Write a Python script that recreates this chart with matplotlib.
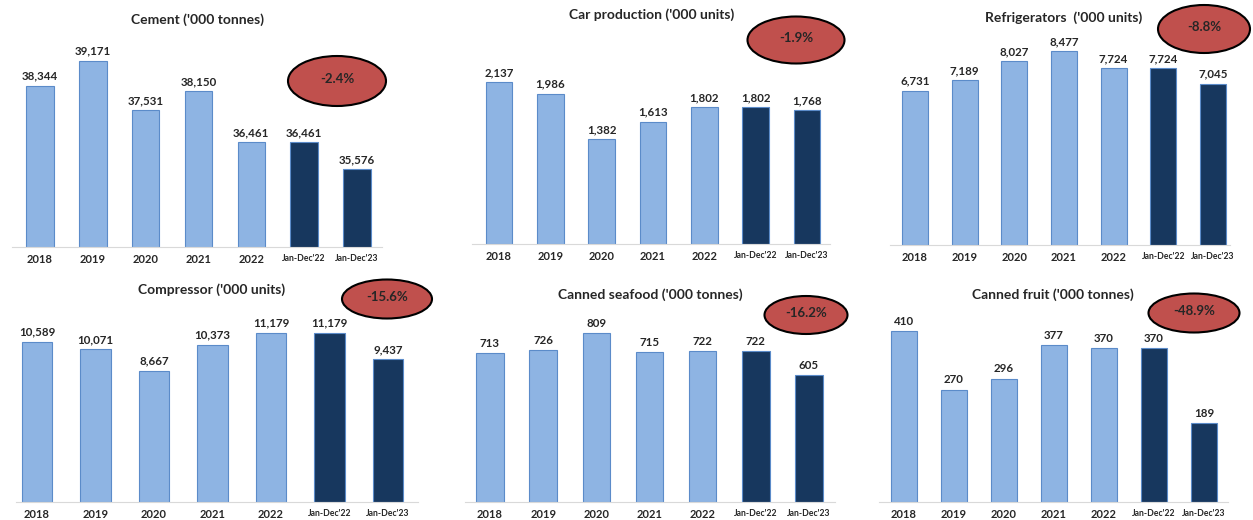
import matplotlib
matplotlib.use("Agg")
import matplotlib.pyplot as plt
from matplotlib.patches import Ellipse

plt.rcParams.update({
    "font.family": ["Lato", "DejaVu Sans"],
    "font.weight": "bold",
})

W, H = 1253, 520

categories = ["2018", "2019", "2020", "2021", "2022", "Jan-Dec'22", "Jan-Dec'23"]

titles = [
    "Cement ('000 tonnes)",
    "Car production ('000 units)",
    "Refrigerators  ('000 units)",
    "Compressor ('000 units)",
    "Canned seafood ('000 tonnes)",
    "Canned fruit ('000 tonnes)",
]

cement = [38344, 39171, 37531, 38150, 36461, 36461, 35576]
cars = [2137, 1986, 1382, 1613, 1802, 1802, 1768]
fridges = [6731, 7189, 8027, 8477, 7724, 7724, 7045]
compressor = [10589, 10071, 8667, 10373, 11179, 11179, 9437]
seafood = [713, 726, 809, 715, 722, 722, 605]
fruit = [410, 270, 296, 377, 370, 370, 189]

changes = ["-2.4%", "-1.9%", "-8.8%", "-15.6%", "-16.2%", "-48.9%"]

series = [cement, cars, fridges, compressor, seafood, fruit]

# layout in pixels: baseline left/right, first/last bar centre, baseline y,
# axes top y, y-axis min, value per pixel, title pos, ellipse (cx, cy, w, h)
layout = [
    dict(l=12, r=382, c0=40, c6=357, base=247, top=30, ymin=33000, vpp=33.1,
         tx=198, ty=20, ell=(337, 81, 98, 50)),
    dict(l=472, r=830, c0=499, c6=807, base=244, top=30, ymin=0, vpp=13.2,
         tx=652, ty=15, ell=(796, 40, 97, 47)),
    dict(l=890, r=1230, c0=915, c6=1213, base=245, top=30, ymin=0, vpp=43.7,
         tx=1064, ty=18, ell=(1204, 29, 92, 48)),
    dict(l=16, r=418, c0=37, c6=388, base=502, top=300, ymin=0, vpp=66.0,
         tx=212, ty=290, ell=(387, 299, 90, 39)),
    dict(l=465, r=835, c0=490, c6=809, base=502, top=300, ymin=0, vpp=4.78,
         tx=650, ty=295, ell=(806, 315, 83, 38)),
    dict(l=879, r=1228, c0=904, c6=1204, base=502, top=300, ymin=0, vpp=2.4,
         tx=1053, ty=295, ell=(1194, 313, 91, 39)),
]

light, dark = "#8EB4E3", "#17375E"
colors = [light] * 5 + [dark] * 2

fig = plt.figure(figsize=(W / 100, H / 100), dpi=100)

for values, title, change, g in zip(series, titles, changes, layout):
    sp = (g["c6"] - g["c0"]) / 6
    ax = fig.add_axes([g["l"] / W, 1 - g["base"] / H,
                       (g["r"] - g["l"]) / W, (g["base"] - g["top"]) / H])
    x = list(range(len(categories)))
    ax.bar(x, values, width=0.52, color=colors, edgecolor="#5B8BC9", linewidth=0.8)
    ax.set_xlim((g["l"] - g["c0"]) / sp, (g["r"] - g["c0"]) / sp)
    ax.set_ylim(g["ymin"], g["ymin"] + (g["base"] - g["top"]) * g["vpp"])
    for i, v in enumerate(values):
        ax.annotate(f"{v:,}", (i, v), xytext=(0, 3), textcoords="offset points",
                    ha="center", va="bottom", fontsize=8.3, fontweight="bold",
                    color="#262626")
    ax.set_xticks(x)
    ax.set_xticklabels(categories)
    for lab in ax.get_xticklabels():
        lab.set_fontsize(8 if lab.get_text()[0] == "2" else 6.2)
        lab.set_fontweight("bold")
        lab.set_color("#262626")
    ax.tick_params(axis="x", length=0, pad=5)
    ax.set_yticks([])
    for s in ["top", "right", "left"]:
        ax.spines[s].set_visible(False)
    ax.spines["bottom"].set_color("#D9D9D9")

    fig.text(g["tx"] / W, 1 - g["ty"] / H, title, ha="center", va="center",
             fontsize=10, fontweight="bold", color="#262626")
    cx, cy, ew, eh = g["ell"]
    fig.patches.append(Ellipse((cx / W, 1 - cy / H), ew / W, eh / H,
                               transform=fig.transFigure, facecolor="#C0504D",
                               edgecolor="black", linewidth=1.5, zorder=5))
    fig.text(cx / W, 1 - (cy - 2) / H, change, ha="center", va="center",
             fontsize=9.5, fontweight="bold", color="#262626", zorder=6)

fig.savefig("out.png", dpi=100)
